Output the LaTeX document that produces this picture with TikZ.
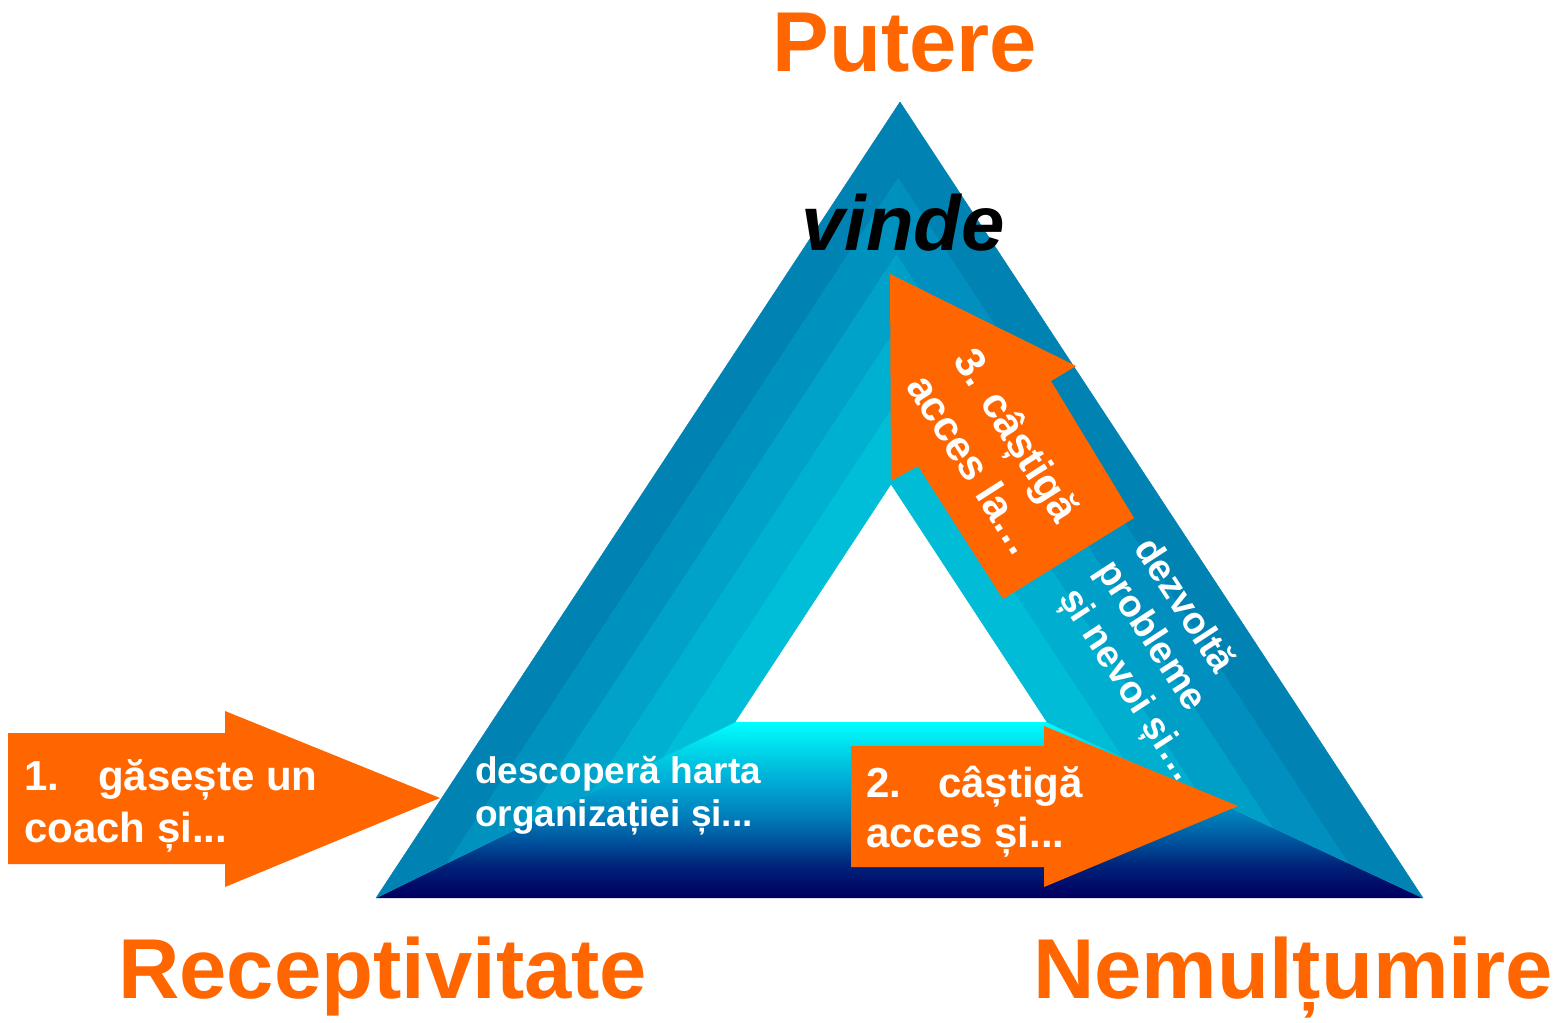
\documentclass[tikz,border=0pt]{standalone}
\usepackage{fontspec}
\setmainfont{Liberation Sans}
\usetikzlibrary{calc}
\definecolor{orng}{HTML}{FF6600}
\definecolor{lf0}{HTML}{0083B3}
\definecolor{lf1}{HTML}{0092BF}
\definecolor{lf2}{HTML}{00A2C9}
\definecolor{lf3}{HTML}{00B0D1}
\definecolor{lf4}{HTML}{00BED8}
\definecolor{rf0}{HTML}{0082B2}
\definecolor{rf1}{HTML}{008FBE}
\definecolor{rf2}{HTML}{009FC7}
\definecolor{rf3}{HTML}{00AED0}
\definecolor{rf4}{HTML}{00BCD7}
\definecolor{bf0}{HTML}{00005E}
\definecolor{bf1}{HTML}{000666}
\definecolor{bf2}{HTML}{00247A}
\definecolor{bf3}{HTML}{00559F}
\definecolor{bf4}{HTML}{0080BA}
\definecolor{bf5}{HTML}{00A0D0}
\definecolor{bf6}{HTML}{00C8E2}
\definecolor{bf7}{HTML}{00FFFF}
\pgfdeclareverticalshading{botface}{100bp}{color(0bp)=(bf0); color(25bp)=(bf0); color(27.3bp)=(bf1); color(34.4bp)=(bf2); color(41.5bp)=(bf3); color(48.6bp)=(bf4); color(55.7bp)=(bf5); color(64.2bp)=(bf6); color(75bp)=(bf7); color(100bp)=(bf7)}
\begin{document}
\begin{tikzpicture}[x=1pt,y=-1pt,
  biglbl/.style={text=orng, font=\fontsize{85}{90}\selectfont\bfseries, inner sep=0},
  wtA/.style={text=white, font=\fontsize{42}{50}\selectfont\bfseries, inner sep=0, anchor=base west},
  wtB/.style={text=white, font=\fontsize{38}{45}\selectfont\bfseries, inner sep=0, anchor=base west},
  wtC/.style={text=white, font=\fontsize{37}{42}\selectfont\bfseries, inner sep=0, anchor=base west},
  blockarrow/.style={fill=orng}]
\useasboundingbox[fill=white] (0,0) rectangle (1556,1023);
% triangle corners
\coordinate (A) at (900,102);
\coordinate (L) at (376,898);
\coordinate (R) at (1423,898);
\coordinate (a) at (891,484);
\coordinate (l) at (735,722);
\coordinate (r) at (1047,722);
% bottom face
\shade[shading=botface] (L) -- (R) -- (r) -- (l) -- cycle;
% left face bands
\foreach \k/\c in {0/lf0,1/lf1,2/lf2,3/lf3,4/lf4}{
  \pgfmathsetmacro\ta{\k/5}
  \pgfmathsetmacro\tb{(\k+1)/5}
  \filldraw[fill=\c, draw=\c, line width=0.5pt, line join=round]
    ($(A)!\ta!(a)$) -- ($(L)!\ta!(l)$) -- ($(L)!\tb!(l)$) -- ($(A)!\tb!(a)$) -- cycle;
}
% right face bands
\foreach \k/\c in {0/rf0,1/rf1,2/rf2,3/rf3,4/rf4}{
  \pgfmathsetmacro\ta{\k/5}
  \pgfmathsetmacro\tb{(\k+1)/5}
  \filldraw[fill=\c, draw=\c, line width=0.5pt, line join=round]
    ($(A)!\ta!(a)$) -- ($(R)!\ta!(r)$) -- ($(R)!\tb!(r)$) -- ($(A)!\tb!(a)$) -- cycle;
}
% block arrows
\fill[blockarrow] (8,733) -- (225,733) -- (225,711) -- (440,798) -- (225,887) -- (225,864) -- (8,864) -- cycle;
\fill[blockarrow] (851,746) -- (1044,746) -- (1044,726) -- (1238,806) -- (1044,887) -- (1044,867) -- (851,867) -- cycle;
\fill[blockarrow] (890,274) -- (1076,366) -- (1051,381) -- (1134,518) -- (1003,599) -- (918,466) -- (891,481) -- cycle;
% corner labels
\node[biglbl, anchor=base] (putere) at (905,71) {Putere};
\node[biglbl, anchor=base west] (recept) at (118,998) {Receptivitate};
\node[biglbl, anchor=base west] (nemul) at (1033,998) {Nemulțumire};
\node[anchor=base, inner sep=0, font=\fontsize{78}{80}\selectfont\bfseries\itshape, text=black] (vinde) at (903,250) {vinde};
% arrow texts
\node[wtA] (g1a) at (24,790) {1.\hspace{39pt}găsește un};
\node[wtA] (g1b) at (24,842) {coach și...};
\node[wtA] (g2a) at (866,797) {2.\hspace{37pt}câștigă};
\node[wtA] (g2b) at (866,847) {acces și...};
\node[wtC] (dh1) at (475,783) {descoperă harta};
\node[wtC] (dh2) at (475,826) {organizației și...};
\node[wtA, rotate=-57.5] (g3a) at (952,360) {3. câștigă};
\node[wtA, rotate=-57.5] (g3b) at (905,386) {acces la…};
\node[wtB, rotate=-57] (dz1) at (1133,548) {dezvoltă};
\node[wtB, rotate=-57] (dz2) at (1095,570) {probleme};
\node[wtB, rotate=-57] (dz3) at (1058,598) {și nevoi și…};
\end{tikzpicture}
\end{document}
